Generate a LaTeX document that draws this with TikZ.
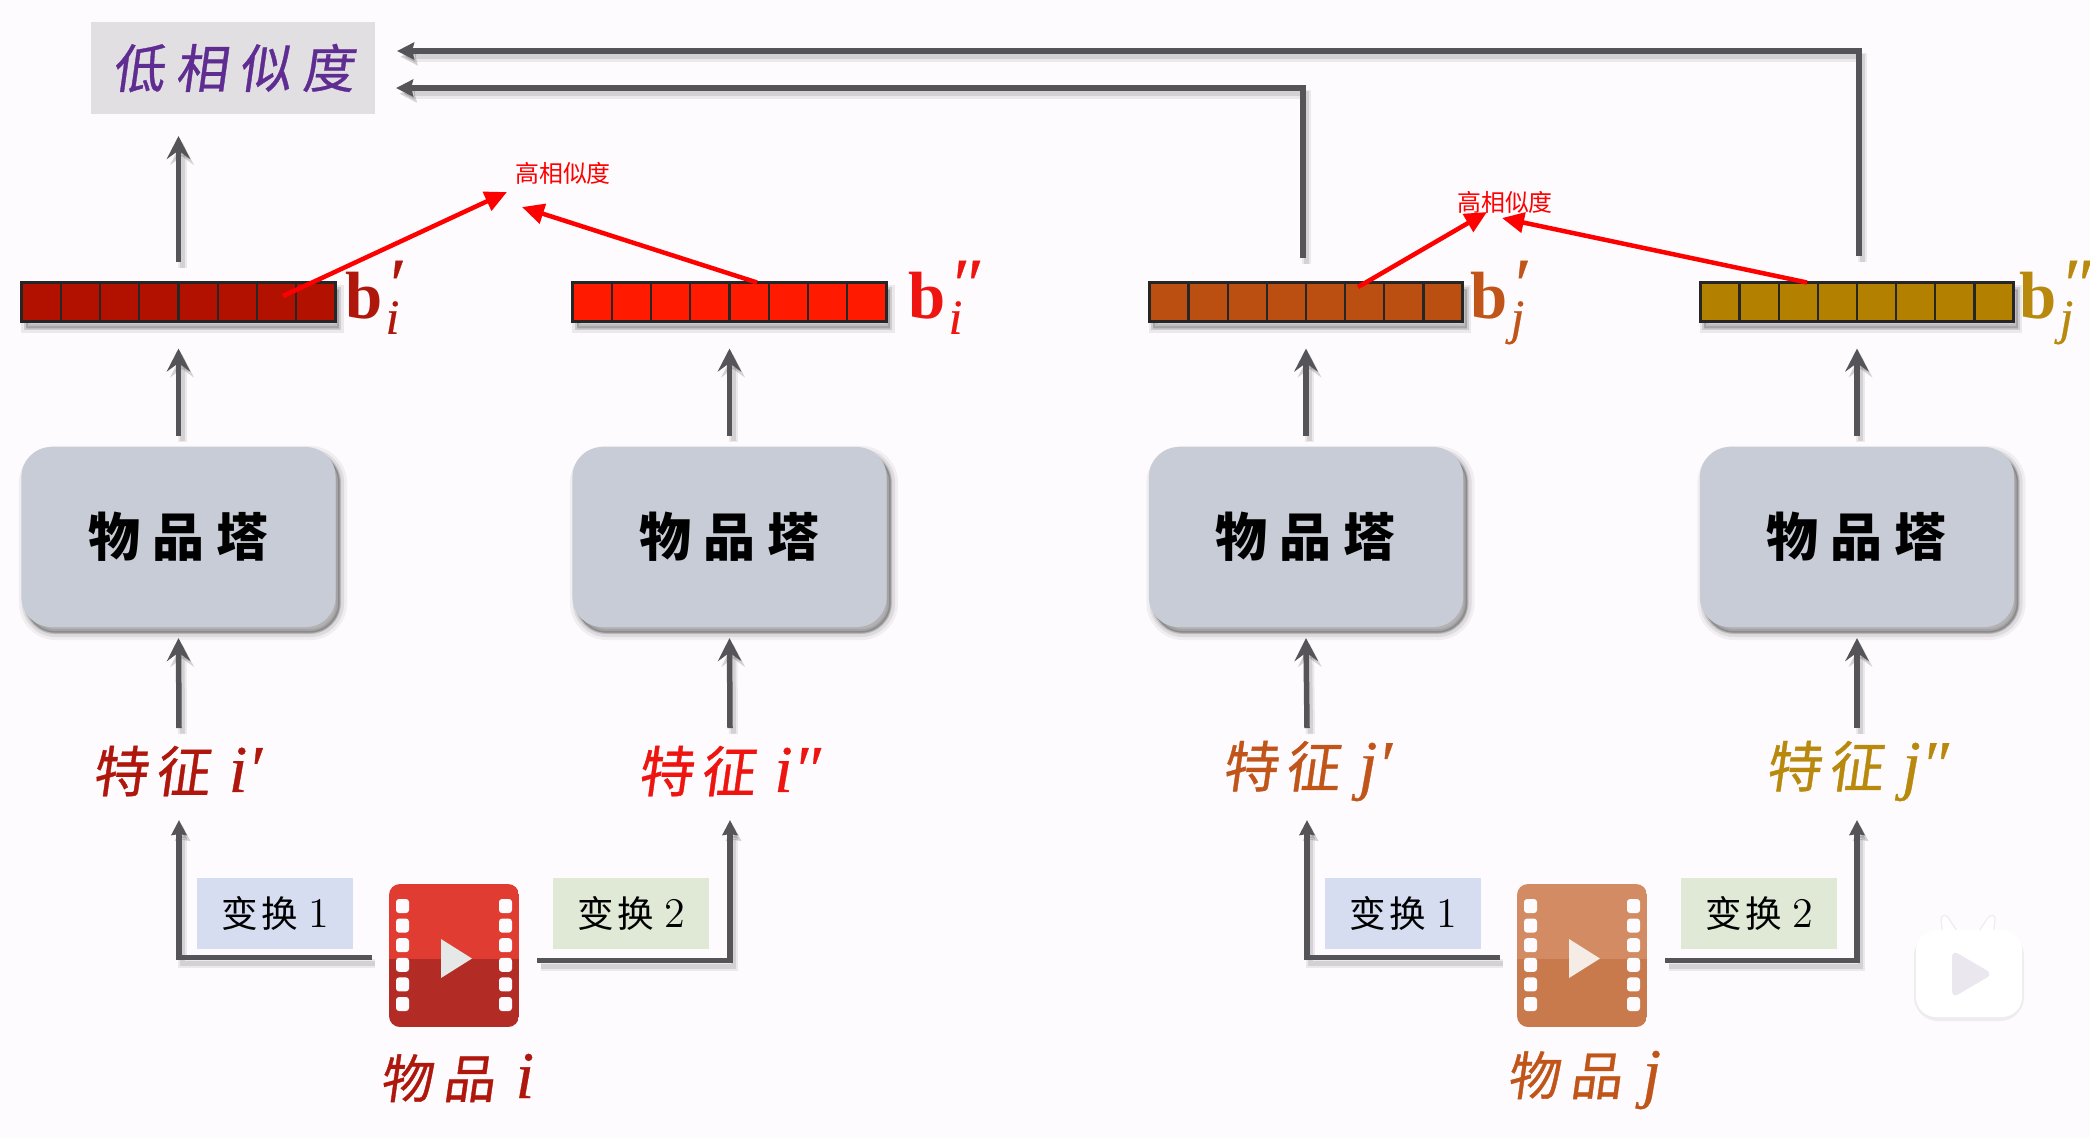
\documentclass[tikz,border=0pt]{standalone}
\usepackage{fontspec}
\usetikzlibrary{arrows.meta,calc}

\newfontfamily\cjk{Noto Sans CJK SC}
\newfontfamily\cjkslant[FakeSlant=0.14,FakeBold=0.7]{Noto Sans CJK SC}
\newfontfamily\serifbold[UprightFont=* Bold]{Liberation Serif}
\newfontfamily\serifit[UprightFont=* Italic,FakeBold=0.5]{Liberation Serif}
\newcommand{\pxfont}[1]{\fontsize{#1}{#1}\selectfont}

\definecolor{pagebg}{HTML}{FDFBFD}
\definecolor{flowgray}{HTML}{555559}
\definecolor{towerfill}{HTML}{C8CCD6}
\definecolor{lowfill}{HTML}{E2DFE3}
\definecolor{lowtext}{HTML}{5F2D91}
\definecolor{redline}{HTML}{FF0000}
\definecolor{tfone}{HTML}{D6DDF0}
\definecolor{tftwo}{HTML}{DFE9D6}
\definecolor{cellA}{HTML}{B31100}
\definecolor{cellB}{HTML}{FF1A00}
\definecolor{cellC}{HTML}{BB4F12}
\definecolor{cellD}{HTML}{B38000}
\definecolor{textA}{HTML}{B0170C}
\definecolor{textB}{HTML}{EE1510}
\definecolor{textC}{HTML}{C05419}
\definecolor{textD}{HTML}{B8890C}
\definecolor{reelAtop}{HTML}{E03C31}
\definecolor{reelAbot}{HTML}{B22C25}
\definecolor{reelBtop}{HTML}{D28B62}
\definecolor{reelBbot}{HTML}{C87A4C}
\definecolor{filmitri}{HTML}{E6E8E8}
\definecolor{filmjtri}{HTML}{F6ECE6}
\definecolor{badgeplay}{HTML}{EAE8EE}

\tikzset{
  softdrop/.style={
    preaction={fill=black,draw=black,opacity=.05,line width=.14cm,transform canvas={xshift=.045cm,yshift=-.06cm}},
    preaction={fill=black,draw=black,opacity=.08,line width=.08cm,transform canvas={xshift=.045cm,yshift=-.06cm}},
    preaction={fill=black,draw=black,opacity=.14,line width=.03cm,transform canvas={xshift=.04cm,yshift=-.055cm}}},
  bardrop/.style={
    preaction={fill=black,draw=black,opacity=.07,line width=.09cm,transform canvas={xshift=.04cm,yshift=-.07cm}},
    preaction={fill=black,draw=black,opacity=.12,line width=.04cm,transform canvas={xshift=.04cm,yshift=-.06cm}}},
  linedrop/.style={
    preaction={draw=black,opacity=.07,line width=.09cm,transform canvas={xshift=.035cm,yshift=-.06cm}},
    preaction={draw=black,opacity=.10,line width=.05cm,transform canvas={xshift=.035cm,yshift=-.055cm}}},
  flowbig/.style={draw=flowgray,line width=.055cm,linedrop,-{Stealth[length=.23cm,width=.235cm,inset=.085cm]}},
  flowlong/.style={draw=flowgray,line width=.055cm,linedrop,-{Stealth[length=.17cm,width=.17cm,inset=.02cm]}},
  flowelbow/.style={draw=flowgray,line width=.055cm,linedrop,-{Stealth[length=.15cm,width=.15cm,inset=.01cm]}},
  simarrow/.style={draw=redline,line width=.045cm,-{Stealth[length=.22cm,width=.2cm,inset=0pt]}},
  barbox/.style={draw=black!85,line width=.03cm,minimum width=3.13cm,minimum height=.39cm,inner sep=0pt,outer sep=0pt,bardrop},
  towerbox/.style={fill=towerfill,rounded corners=.3cm,minimum width=3.14cm,minimum height=1.8cm,inner sep=0pt,outer sep=0pt,softdrop,
    font=\cjk\bfseries\pxfont{14.8}},
  tfbox/.style={minimum width=1.55cm,minimum height=.71cm,inner sep=0pt,outer sep=0pt,font=\cjk\pxfont{10.4}},
  filmnode/.style={minimum width=1.3cm,minimum height=1.43cm,inner sep=0pt,outer sep=0pt},
  featlabel/.style={font=\cjkslant\pxfont{15.6},inner sep=0pt},
  itemlabel/.style={font=\cjkslant\pxfont{14.8},inner sep=0pt},
  veclabel/.style={inner sep=0pt,anchor=base west},
  simlabel/.style={text=redline,font=\cjk\pxfont{6.8},inner sep=0pt},
}

% Italic letter used in the coloured labels.
\newcommand{\itlabel}[1]{{\serifit\pxfont{19}#1}}
% Bold b with a prime mark above and an italic index below.
\newcommand{\vecsym}[2]{{\serifbold\pxfont{19}b}\hspace{.8pt}\rlap{\raisebox{2.5pt}{\serifit\pxfont{21}#1}}\raisebox{-4.5pt}{\serifit\pxfont{14}#2}}

% One film-strip icon: two-tone body, six perforations per side, play triangle.
\newcommand{\filmreel}[5]{%
  \node[filmnode] (#1) at (#2,#3) {};
  \begin{scope}[shift={(#2,#3)}]
    \begin{scope}
      \clip[rounded corners=.11cm] (-65,-71.5) rectangle (65,71.5);
      \fill[#4] (-65,-71.5) rectangle (65,3);
      \fill[#5] (-65,3) rectangle (65,71.5);
    \end{scope}
    \foreach \row in {0,...,5}{
      \fill[pagebg,rounded corners=.03cm] (-58,{-56.5+19.6*\row}) rectangle (-45,{-42.5+19.6*\row});
      \fill[pagebg,rounded corners=.03cm] (45,{-56.5+19.6*\row}) rectangle (58,{-42.5+19.6*\row});
    }
    \fill[#1tri] (-13,-16.5) -- (-13,22.5) -- (18,3) -- cycle;
  \end{scope}}

% Vertical dividers splitting a vector bar into eight cells.
\newcommand{\celldivs}[1]{%
  \foreach \k in {1,...,7}{
    \draw[black!85,line width=.022cm]
      ($(#1.north west)!\k/8!(#1.north east)$) -- ($(#1.south west)!\k/8!(#1.south east)$);
  }}

\begin{document}
\begin{tikzpicture}[x=.01cm,y=-.01cm]
\useasboundingbox (0,0) rectangle (2090,1138);
\fill[pagebg] (0,0) rectangle (2090,1138);

% Result box
\node[fill=lowfill,minimum width=2.84cm,minimum height=.92cm,inner sep=0pt,outer sep=0pt,
      text=lowtext,font=\cjkslant\pxfont{14.8}] (low) at (233,68)
  {低\hspace{3.2pt}相\hspace{3.2pt}似\hspace{3.2pt}度};

% Vector bars
\node[barbox,fill=cellA] (bar1) at (178.5,302) {};
\node[barbox,fill=cellB] (bar2) at (729.5,302) {};
\node[barbox,fill=cellC] (bar3) at (1306,302) {};
\node[barbox,fill=cellD] (bar4) at (1857,302) {};
\celldivs{bar1}\celldivs{bar2}\celldivs{bar3}\celldivs{bar4}

\node[veclabel,text=textA] (vec1) at (345,318) {\vecsym{′}{i}};
\node[veclabel,text=textB] (vec2) at (908,318) {\vecsym{″}{i}};
\node[veclabel,text=textC] (vec3) at (1470,318) {\vecsym{′}{j}};
\node[veclabel,text=textD] (vec4) at (2019,318) {\vecsym{″}{j}};

% Tower boxes
\node[towerbox] (tower1) at (178.5,537) {物\hspace{3.4pt}品\hspace{3.4pt}塔};
\node[towerbox] (tower2) at (729.5,537) {物\hspace{3.4pt}品\hspace{3.4pt}塔};
\node[towerbox] (tower3) at (1306,537) {物\hspace{3.4pt}品\hspace{3.4pt}塔};
\node[towerbox] (tower4) at (1857,537) {物\hspace{3.4pt}品\hspace{3.4pt}塔};

% Feature labels
\node[featlabel,text=textA] (feat1) at (177,771) {特\hspace{2.2pt}征\hspace{5.5pt}\itlabel{i′}};
\node[featlabel,text=textB] (feat2) at (729,771) {特\hspace{2.2pt}征\hspace{5.5pt}\itlabel{i″}};
\node[featlabel,text=textC] (feat3) at (1307,771) {特\hspace{2.2pt}征\hspace{5.5pt}\itlabel{j′}};
\node[featlabel,text=textD] (feat4) at (1857,771) {特\hspace{2.2pt}征\hspace{5.5pt}\itlabel{j″}};

% Transform tags
\node[tfbox,fill=tfone] (tfa1) at (275,913) {变\hspace{1pt}换\hspace{3pt}{\rmfamily\pxfont{12}1}};
\node[tfbox,fill=tftwo] (tfa2) at (631,913) {变\hspace{1pt}换\hspace{3pt}{\rmfamily\pxfont{12}2}};
\node[tfbox,fill=tfone] (tfb1) at (1403,913) {变\hspace{1pt}换\hspace{3pt}{\rmfamily\pxfont{12}1}};
\node[tfbox,fill=tftwo] (tfb2) at (1759,913) {变\hspace{1pt}换\hspace{3pt}{\rmfamily\pxfont{12}2}};

% Items
\filmreel{filmi}{454}{955.5}{reelAtop}{reelAbot}
\filmreel{filmj}{1582}{955.5}{reelBtop}{reelBbot}
\node[itemlabel,text=textA] (itemi) at (457,1078) {物\hspace{3pt}品\hspace{6pt}\itlabel{i}};
\node[itemlabel,text=textC] (itemj) at (1584,1080) {物\hspace{3pt}品\hspace{6pt}\itlabel{j}};

% Free ends of the feature connectors
\coordinate (in1) at (179,820);
\coordinate (in2) at (730,820);
\coordinate (in3) at (1307,820);
\coordinate (in4) at (1857,820);
\coordinate (out1) at (179,728);
\coordinate (out2) at (730,728);
\coordinate (out3) at (1307,728);
\coordinate (out4) at (1857,728);

% Item to feature
\draw[flowelbow] ([xshift=-.17cm,yshift=-.02cm]filmi.west) -| (in1);
\draw[flowelbow] ([xshift=.18cm,yshift=-.05cm]filmi.east) -| (in2);
\draw[flowelbow] ([xshift=-.17cm,yshift=-.02cm]filmj.west) -| (in3);
\draw[flowelbow] ([xshift=.18cm,yshift=-.05cm]filmj.east) -| (in4);

% Feature to tower
\foreach \n in {1,2,3,4}{
  \draw[flowbig] (out\n) -- ([yshift=-.11cm]tower\n.south);
  \draw[flowbig] ([yshift=.11cm]tower\n.north) -- ([yshift=-.27cm]bar\n.south);
}

% Bar to result box
\draw[flowbig] ([yshift=.2cm]bar1.north) -- ($(bar1.north |- low.south)+(0,22)$);
\draw[flowlong] ([xshift=-.03cm,yshift=.24cm]bar3.north) |- ([xshift=.21cm,yshift=-.2cm]low.east);
\draw[flowlong] ([xshift=.02cm,yshift=.26cm]bar4.north) |- ([xshift=.22cm,yshift=.17cm]low.east);

% High-similarity annotations
\node[simlabel] (sim1) at (563,173) {高相似度};
\node[simlabel] (sim2) at (1505,202) {高相似度};
\draw[simarrow] ([xshift=1.045cm,yshift=.06cm]bar1.center) -- ([xshift=-.56cm,yshift=-.19cm]sim1.center);
\draw[simarrow] ([xshift=.275cm]bar2.north) -- ([xshift=-.41cm,yshift=-.34cm]sim1.center);
\draw[simarrow] ([xshift=.52cm,yshift=.15cm]bar3.center) -- ([xshift=-.18cm,yshift=-.1cm]sim2.center);
\draw[simarrow] ([xshift=-.5cm]bar4.north) -- ([xshift=-.03cm,yshift=-.16cm]sim2.center);

% Corner badge
\begin{scope}
  \fill[black,opacity=.06,rounded corners=.24cm] (1914,932) rectangle (2024,1021);
  \fill[white,draw=black!8,line width=.01cm] (1943,934) -- (1941,920) .. controls (1941,914) and (1947,914) .. (1949,919) -- (1959,934) -- cycle;
  \fill[white,draw=black!8,line width=.01cm] (1977,934) -- (1987,919) .. controls (1990,914) and (1996,914) .. (1995,920) -- (1993,934) -- cycle;
  \fill[white,rounded corners=.2cm] (1916,930) rectangle (2022,1017);
  \fill[badgeplay,rounded corners=.07cm] (1952,950) -- (1952,998) -- (1993,974) -- cycle;
\end{scope}
\end{tikzpicture}
\end{document}
